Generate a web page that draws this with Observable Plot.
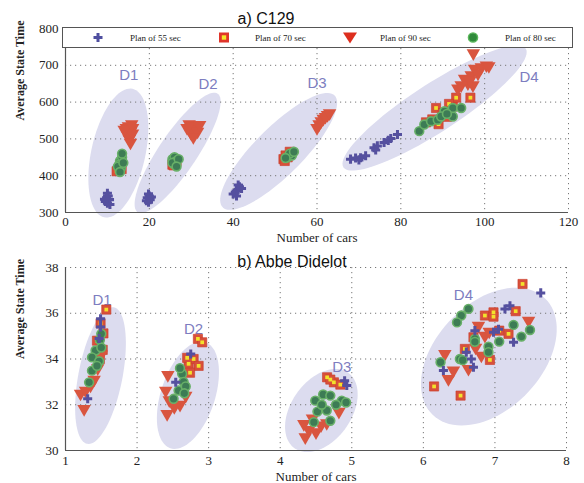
<!DOCTYPE html>
<html><head><meta charset="utf-8">
<script src="https://cdn.jsdelivr.net/npm/d3@7"></script>
<script src="https://cdn.jsdelivr.net/npm/@observablehq/plot@0.6"></script>
<style>
body{margin:0;background:#fff;}
#wrap{position:relative;width:584px;height:483px;overflow:hidden;}
#wrap svg{display:block}
</style></head><body><div id="wrap"></div>
<script>
// ---------- Panel a) C129 ----------
const c129XTicks = [0, 20, 40, 60, 80, 100, 120];
const c129YTicks = [300, 400, 500, 600, 700, 800];
const c129Plan55 = [
  [9.5,330],[10,325],[10.5,335],[9.8,340],[10.2,345],[10,352],[10.6,322],[9.3,336],
  [19.5,340],[20,345],[20.2,335],[19.8,350],[20.5,342],[19.3,332],[19.8,328],
  [40,350],[41,360],[41.5,370],[40.5,355],[42,365],[40.8,345],[41.2,375],
  [68,445],[69.2,448],[70.4,449],[71.6,454],[73.6,476],[74.4,481],[76,490],[77,496],[77.6,501],[79.2,512],[70,443],[74,470]
];
const c129Plan70 = [
  [12.5,415],[13,420],[12.2,412],[13.4,418],
  [25.5,430],[26,435],[26.5,440],[25.8,428],
  [52,445],[53,450],[52.5,455],[53.5,465],[52.3,440],
  [86,545],[88.4,584],[90,570],[92.4,588],[93.2,612],[96.6,612],[91,560],[89,540],[87.5,553],[91.5,595]
];
const c129Plan90 = [
  [15,535],[14.5,530],[16,530],[15.5,520],[14.8,510],[15.2,500],[15.5,490],[16,515],[14,525],[15.8,540],
  [29.5,540],[31,535],[30.5,525],[30,515],[31.5,520],[30.5,505],[29,530],[32,538],
  [60.5,540],[61.5,555],[62.5,565],[61,548],[62,560],[60,530],[63,570],
  [93.6,637],[95.2,664],[96.8,673],[97.6,691],[99.2,695],[100.4,700],[96,651],[97.2,646],[94.4,646],[98.4,678],[97.3,733],[96.5,660],[101,698]
];
const c129Plan80 = [
  [13,440],[13.5,450],[12.8,430],[13.2,420],[12.5,425],[13.5,460],[13,410],[13.8,435],
  [25.5,445],[26,450],[26.5,440],[26,430],[25.5,435],[27,445],[26.5,425],
  [53,450],[54,455],[53.5,460],[52.5,448],[54.5,465],
  [84.4,521],[85.6,539],[87.2,548],[88.8,552],[90.4,575],[92.4,561],[92.4,584],[94.4,584],[89.6,561],[91,568]
];
// ellipse: major-axis end points (data) and semi-minor axis (px)
const c129Ellipses = [
  [16.0,636, 9.2,287, 27],
  [36.3,623, 17.2,301, 19],
  [64.2,618, 37.5,314, 24],
  [109.8,745, 66.3,423, 24]
];
const c129Labels = [["D1",15.1,672],["D2",34,650],["D3",60,651],["D4",110.6,668]];

// ---------- Panel b) Abbe Didelot ----------
const abbeXTicks = [1, 2, 3, 4, 5, 6, 7, 8];
const abbeYTicks = [30, 32, 34, 36, 38];
const abbePlan55 = [
  [1.49,35.76],[1.49,35.4],[1.31,32.26],[1.47,34.9],
  [2.75,34.22],[2.54,32.98],
  [4.93,32.84],[4.9,33.05],
  [7.64,36.89],[7.21,36.33],[7.14,36.19],[6.72,35.24],[6.98,35.17],[7.26,34.73],[6.67,34.0],[6.28,33.5],[7.05,35.3],[6.6,34.3],[6.7,33.64]
];
const abbePlan70 = [
  [1.57,36.16],[1.49,35.56],[1.53,35.12],[1.44,34.8],[1.52,34.4],[1.48,34.0],
  [2.85,34.88],[2.91,34.73],[2.72,33.79],[2.79,34.0],[2.86,33.7],[2.74,33.4],[2.7,34.05],
  [4.655,33.2],[4.75,32.98],[4.84,32.88],[4.7,33.1],
  [7.386,37.28],[6.86,35.9],[6.98,36.04],[7.29,36.09],[7.06,35.24],[7.19,35.1],[6.58,34.44],[6.93,33.96],[6.15,32.8],[6.52,32.4],[6.7,34.95],[6.98,35.85]
];
const abbePlan90 = [
  [1.26,31.82],[1.21,32.49],[1.28,32.62],[1.35,32.84],[1.4,33.1],[1.45,33.6],[1.5,34.2],
  [2.42,31.6],[2.4,32.62],[2.43,33.3],[2.6,32.0],[2.45,32.2],[2.52,31.9],[2.68,32.4],
  [4.35,30.58],[4.33,31.16],[4.57,31.1],[4.45,31.4],[4.65,31.2],[4.82,31.7],[4.4,30.9],[4.5,30.8],
  [7.47,35.68],[6.77,35.46],[6.86,35.02],[6.30,34.22],[6.42,33.5],[6.35,33.13],[6.63,33.57],[6.81,34.15],[6.73,34.5],[6.92,35.2]
];
const abbePlan80 = [
  [1.48,34.83],[1.42,34.37],[1.37,34.07],[1.47,33.9],[1.37,33.49],[1.33,32.98],[1.5,34.5],[1.44,33.7],[1.5,35.1],
  [2.63,33.35],[2.65,33.0],[2.58,32.62],[2.51,32.26],[2.68,32.8],[2.6,33.6],[2.66,32.5],
  [4.49,32.18],[4.6,32.45],[4.7,32.4],[4.86,32.18],[4.92,32.1],[4.65,31.75],[4.52,31.7],[4.7,31.3],[4.47,31.24],[4.58,32.0],[4.78,32.0],
  [6.63,36.19],[6.53,35.9],[6.47,35.6],[7.26,35.49],[7.49,35.27],[7.37,34.98],[7.06,34.76],[6.72,34.88],[6.91,34.54],[6.91,34.3],[6.51,34.0],[6.55,33.95],[6.24,33.86],[6.72,34.75]
];
const abbeEllipses = [
  [1.675,36.26, 1.303,30.29, 22],
  [2.955,34.73, 2.466,30.1, 27],
  [4.95,33.4, 4.2,30.1, 30],
  [7.70,36.65, 6.13,31.56, 53]
];
const abbeLabels = [["D1",1.51,36.55],["D2",2.79,35.31],["D3",4.86,33.65],["D4",6.56,36.77]];

// ---------- styles ----------
const COL55 = "#55509f", COL70 = "#d8503a", COL70in = "#f2e22c", COL90 = "#d9553f",
      COL80 = "#3d7c55", COL80s = "#68b068", ELL = "#dcdcef", DLAB = "#7d7dc0";

const downTriangle = {
  draw(context, size) {
    const y = Math.sqrt(size / (Math.sqrt(3) * 3));
    context.moveTo(0, 2 * y);
    context.lineTo(-Math.sqrt(3) * y, -y);
    context.lineTo(Math.sqrt(3) * y, -y);
    context.closePath();
  }
};

function ellipsePoints(specs, kx, ky) {
  const out = [];
  specs.forEach((s, i) => {
    const [x1, y1, x2, y2, b] = s;
    const X1 = x1 * kx, Y1 = y1 * ky, X2 = x2 * kx, Y2 = y2 * ky;
    const cx = (X1 + X2) / 2, cy = (Y1 + Y2) / 2;
    const ux = (X2 - X1) / 2, uy = (Y2 - Y1) / 2;
    const L = Math.hypot(ux, uy);
    const nx = -uy / L * b, ny = ux / L * b;
    for (let k = 0; k < 90; k++) {
      const t = (k / 90) * 2 * Math.PI;
      out.push({id: i, x: (cx + ux * Math.cos(t) + nx * Math.sin(t)) / kx,
                       y: (cy + uy * Math.cos(t) + ny * Math.sin(t)) / ky});
    }
  });
  return out;
}

function panel(cfg) {
  const {height, mt, mb, ml, mr, xd, yd, xt, yt, p55, p70, p90, p80, ells, labs, title, titleDx, titleDy, xlabDy, tickPad} = cfg;
  const width = 584;
  const kx = (width - ml - mr) / (xd[1] - xd[0]);
  const ky = (height - mt - mb) / (yd[1] - yd[0]);
  const X = d => d[0], Y = d => d[1];
  return Plot.plot({
    width, height, marginTop: mt, marginBottom: mb, marginLeft: ml, marginRight: mr,
    style: {fontFamily: "Liberation Serif", fontSize: "13px", color: "#222", background: "transparent", overflow: "visible"},
    x: {domain: xd, ticks: xt, tickFormat: d3.format("d"), tickSize: 0, tickPadding: tickPad, label: null},
    y: {domain: yd, ticks: yt, tickFormat: d3.format("d"), tickSize: 0, tickPadding: 7, label: null},
    marks: [
      Plot.line(ellipsePoints(ells, kx, ky), {x: "x", y: "y", z: "id", curve: "linear-closed", fill: ELL, stroke: "none"}),
      Plot.ruleX(xt, {stroke: "#777", strokeDasharray: "1.2,3.8", strokeWidth: 1}),
      Plot.ruleY(yt, {stroke: "#777", strokeDasharray: "1.2,3.8", strokeWidth: 1}),
      Plot.ruleX([xd[0]], {stroke: "#555", strokeWidth: 1.2}),
      Plot.ruleY([yd[0]], {stroke: "#555", strokeWidth: 1.2}),
      Plot.text(labs, {x: d => d[1], y: d => d[2], text: d => d[0], fill: DLAB, fontFamily: "Liberation Sans", fontSize: 15}),
      Plot.dot(p70, {x: X, y: Y, symbol: "square", r: 5.2, fill: COL70, stroke: "#c93a2a", strokeWidth: 0.6}),
      Plot.dot(p70, {x: X, y: Y, symbol: "square", r: 2.1, fill: COL70in}),
      Plot.dot(p90, {x: X, y: Y, symbol: downTriangle, r: 5, fill: COL90}),
      Plot.dot(p80, {x: X, y: Y, r: 4.4, fill: COL80, stroke: COL80s, strokeWidth: 1.6}),
      Plot.dot(p55, {x: X, y: Y, symbol: "cross", r: 3.8, fill: COL55}),
      Plot.text([title], {frameAnchor: "top", lineAnchor: "middle", text: d => d, dx: titleDx, dy: titleDy, fontFamily: "Liberation Sans", fontSize: 16, fill: "#111"}),
      Plot.text(["Average State Time"], {frameAnchor: "left", lineAnchor: "middle", text: d => d, rotate: -90, dx: -45, fontWeight: "bold", fontSize: 12, fill: "#222"}),
      Plot.text(["Number of cars"], {frameAnchor: "bottom", lineAnchor: "middle", text: d => d, dy: xlabDy, fontSize: 13, fill: "#222"})
    ]
  });
}

const wrap = document.getElementById("wrap");
wrap.appendChild(panel({height: 250, mt: 28, mb: 38, ml: 65, mr: 16,
  xd: [0, 120], yd: [300, 800], xt: c129XTicks, yt: c129YTicks,
  p55: c129Plan55, p70: c129Plan70, p90: c129Plan90, p80: c129Plan80,
  ells: c129Ellipses, labs: c129Labels, title: "a) C129", titleDx: -51, titleDy: -10, xlabDy: 25, tickPad: 4}));
wrap.appendChild(panel({height: 233, mt: 17, mb: 33, ml: 65, mr: 18,
  xd: [1, 8], yd: [30, 38], xt: abbeXTicks, yt: abbeYTicks,
  p55: abbePlan55, p70: abbePlan70, p90: abbePlan90, p80: abbePlan80,
  ells: abbeEllipses, labs: abbeLabels, title: "b) Abbe Didelot", titleDx: -24, titleDy: -6, xlabDy: 26, tickPad: 5}));

// ---------- legend ----------
const legendItems = ["Plan of 55 sec", "Plan of 70 sec", "Plan of 90 sec", "Plan of 80 sec"];
const lg = d3.select(wrap).append("div")
  .style("position", "absolute").style("left", "62px").style("top", "27px")
  .style("width", "509px").style("height", "19px")
  .style("border", "1px solid #555").style("background", "#fff");
const ls = lg.append("svg").attr("width", 509).attr("height", 19)
  .style("position", "absolute").style("left", "0px").style("top", "0px");
const symX = [35, 161, 287, 410], txtX = [67, 192, 317, 442];
const cy = 9.5;
ls.append("path").attr("transform", `translate(${symX[0]},${cy})`).attr("d", d3.symbol(d3.symbolCross, 45)()).attr("fill", "#4f4fa0");
ls.append("rect").attr("x", symX[1] - 5).attr("y", cy - 5).attr("width", 10).attr("height", 10).attr("fill", "#e0352a");
ls.append("rect").attr("x", symX[1] - 2.2).attr("y", cy - 2.2).attr("width", 4.4).attr("height", 4.4).attr("fill", "#f5e82a");
ls.append("path").attr("d", `M${symX[2]-7},${cy-5}L${symX[2]+7},${cy-5}L${symX[2]},${cy+6}Z`).attr("fill", "#dd2e1e");
ls.append("circle").attr("cx", symX[3]).attr("cy", cy).attr("r", 4.6).attr("fill", "#2f8a3a").attr("stroke", "#5cb85c").attr("stroke-width", 1.4);
legendItems.forEach((t, i) => {
  ls.append("text").attr("x", txtX[i]).attr("y", cy).attr("dy", "0.35em")
    .attr("font-family", "Liberation Serif").attr("font-size", 9).attr("fill", "#222").text(t);
});
</script>
</body></html>
